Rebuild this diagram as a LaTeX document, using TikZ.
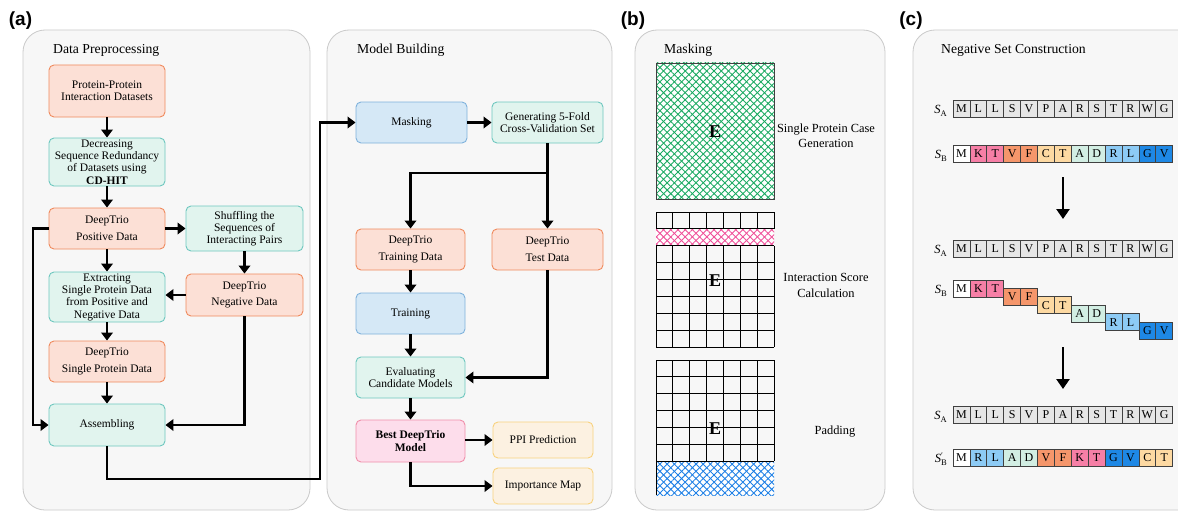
\documentclass[tikz,border=0pt]{standalone}
\usepackage{fontspec}
\setmainfont{Liberation Serif}
\newfontfamily\panelfont{Liberation Sans}
\usetikzlibrary{arrows.meta,patterns.meta}
\definecolor{panelbg}{HTML}{F7F7F7}
\definecolor{panelborder}{HTML}{CACACA}
\definecolor{orfill}{HTML}{FCE0D6}
\definecolor{ordraw}{HTML}{F08A5D}
\definecolor{tlfill}{HTML}{E1F4EE}
\definecolor{tldraw}{HTML}{6EC7BF}
\definecolor{blfill}{HTML}{D5E8F6}
\definecolor{bldraw}{HTML}{7FB2DC}
\definecolor{pkfill}{HTML}{FDDDEB}
\definecolor{pkdraw}{HTML}{F08FAA}
\definecolor{ylfill}{HTML}{FCF1E1}
\definecolor{yldraw}{HTML}{F8D27E}
\definecolor{cgray}{HTML}{E6E6E6}
\definecolor{cpink}{HTML}{F67FA6}
\definecolor{corange}{HTML}{F5966B}
\definecolor{cpeach}{HTML}{FDD9A2}
\definecolor{cteal}{HTML}{D2EEE3}
\definecolor{clblue}{HTML}{8DCBF5}
\definecolor{cblue}{HTML}{1E88E5}
\definecolor{hgreen}{HTML}{1AAA62}
\definecolor{hpink}{HTML}{F0509A}
\definecolor{hblue}{HTML}{1E80E6}
\newcommand\myseqrow[3]{\foreach \ch/\cc [count=\i from 0] in {#3} {\node[cell,fill=\cc] (#1-\i) at (961.45+\i*16.9,#2) {\ch};}}
\begin{document}
\begin{tikzpicture}[x=1pt,y=-1pt,
  panel/.style={draw=panelborder,fill=panelbg,line width=0.8pt,rounded corners=22pt},
  box/.style={rounded corners=5pt,line width=0.9pt,align=center,inner sep=1pt,font=\fontsize{11.5}{12.3}\selectfont},
  obox/.style={box,draw=ordraw,fill=orfill},
  tbox/.style={box,draw=tldraw,fill=tlfill},
  bbox/.style={box,draw=bldraw,fill=blfill},
  pbox/.style={box,draw=pkdraw,fill=pkfill},
  ybox/.style={box,draw=yldraw,fill=ylfill},
  arr/.style={line width=2.4pt,-{Triangle[length=8pt,width=11.5pt]}},
  bigarr/.style={line width=2.6pt,-{Triangle[length=10pt,width=13pt]}},
  ttl/.style={anchor=west,inner sep=0pt,font=\fontsize{13.7}{16}\selectfont},
  plabel/.style={inner sep=0pt,font=\panelfont\bfseries\fontsize{19}{22}\selectfont},
  cell/.style={draw=black!75,line width=0.8pt,minimum width=16.9pt,minimum height=16.9pt,inner sep=0pt,font=\fontsize{12}{12}\selectfont},
  hatchfill/.style={fill=white,
    postaction={pattern={Lines[angle=45,distance=5.1pt,line width=0.9pt]},pattern color=#1,fill opacity=0.45},
    postaction={pattern={Lines[angle=-45,distance=5.1pt,line width=0.9pt]},pattern color=#1,fill opacity=0.45}},
  gline/.style={line width=0.9pt,draw=black},
  seqlbl/.style={anchor=east,inner sep=0pt,font=\fontsize{12.5}{13}\selectfont},
  lbl/.style={align=center,inner sep=0pt,font=\fontsize{12.4}{15.5}\selectfont},
  bigE/.style={inner sep=0pt,font=\bfseries\fontsize{18}{18}\selectfont}
]
\clip (0,0) rectangle (1178,511);
\fill[white] (0,0) rectangle (1178,511);
% panel backgrounds
\draw[panel] (23,30) rectangle (310,510);
\draw[panel] (327,30) rectangle (612,510);
\draw[panel] (635,30) rectangle (885,510);
\draw[panel] (913,30) rectangle (1200,510);
% panel labels
\node[plabel] (la) at (20.5,21) {(a)};
\node[plabel] (lb) at (633,21) {(b)};
\node[plabel] (lc) at (911,21) {(c)};
% titles
\node[ttl] (t1) at (53,50) {Data Preprocessing};
\node[ttl] (t2) at (357,50) {Model Building};
\node[ttl] (t3) at (664,50) {Masking};
\node[ttl] (t4) at (941,50) {Negative Set Construction};
% ---------- Data preprocessing ----------
\node[obox,minimum width=116pt,minimum height=52pt] (n1) at (107,91) {Protein-Protein\\Interaction Datasets};
\node[tbox,minimum width=116pt,minimum height=48pt] (n2) at (107,162) {Decreasing\\Sequence Redundancy\\of Datasets using\\\textbf{CD-HIT}};
\node[obox,minimum width=116pt,minimum height=41pt] (n3) at (107,228.5) {DeepTrio\\[4.5pt]Positive Data};
\node[tbox,minimum width=117pt,minimum height=45pt] (n4) at (244.5,228.5) {Shuffling the\\Sequences of\\Interacting Pairs};
\node[tbox,minimum width=116pt,minimum height=50pt] (n5) at (107,297) {Extracting\\Single Protein Data\\from Positive and\\Negative Data};
\node[obox,minimum width=117pt,minimum height=42pt] (n6) at (244.5,295) {DeepTrio\\[4.5pt]Negative Data};
\node[obox,minimum width=116pt,minimum height=41pt] (n7) at (107,361.5) {DeepTrio\\[4.5pt]Single Protein Data};
\node[tbox,minimum width=116pt,minimum height=42pt] (n8) at (107,425) {Assembling};
\coordinate (L) at (33,0);
\coordinate (J) at (320,479);
\draw[arr] (n1) -- (n2);
\draw[arr] (n2) -- (n3);
\draw[arr] (n3.east) -- (n4.west);
\draw[arr] (n3) -- (n5);
\draw[arr] (n4.south) -- (n6.north);
\draw[arr] (n6.west) -- (n6.west -| n5.east);
\draw[arr] (n5) -- (n7);
\draw[arr] (n7) -- (n8);
\draw[arr] (n3.west) -- (n3.west -| L) |- (n8.west);
\draw[arr] (n6.south) |- (n8.east);
% ---------- Model building ----------
\node[bbox,minimum width=111pt,minimum height=41pt] (m1) at (411.5,122.5) {Masking};
\node[tbox,minimum width=111pt,minimum height=41pt] (m2) at (547.5,122.5) {Generating 5-Fold\\Cross-Validation Set};
\node[obox,minimum width=109pt,minimum height=41pt] (m3) at (410.5,249.5) {DeepTrio\\[4.5pt]Training Data};
\node[obox,minimum width=111pt,minimum height=41pt] (m4) at (547.5,249.5) {DeepTrio\\[4.5pt]Test Data};
\node[bbox,minimum width=109pt,minimum height=41pt] (m5) at (410.5,313.5) {Training};
\node[tbox,minimum width=109pt,minimum height=41pt] (m6) at (410.5,377.5) {Evaluating\\Candidate Models};
\node[pbox,minimum width=109pt,minimum height=42pt] (m7) at (410.5,441) {\textbf{Best DeepTrio}\\\textbf{Model}};
\node[ybox,minimum width=100pt,minimum height=36pt] (m8) at (543,440) {PPI Prediction};
\node[ybox,minimum width=100pt,minimum height=36pt] (m9) at (543,486) {Importance Map};
\coordinate (split) at (547.5,173);
\draw[arr] (n8.south) |- (J) |- (m1.west);
\draw[arr] (m1) -- (m2);
\draw[arr] (m2.south) -- (m4.north);
\draw[arr] (split) -| (m3.north);
\draw[arr] (m3) -- (m5);
\draw[arr] (m5) -- (m6);
\draw[arr] (m4.south) |- (m6.east);
\draw[arr] (m6) -- (m7);
\draw[arr] (m7.east |- m8.west) -- (m8.west);
\draw[arr] (m7.south) |- (m9.west);
% ---------- Masking panel ----------
\path[hatchfill=hgreen] (656,63) rectangle (774,199);
\draw[line width=0.9pt,draw=black!75] (656,63) rectangle (774,199);
\node[bigE] (e1) at (715,132) {E};
\node[lbl] (b1) at (826,136) {Single Protein Case\\Generation};
% grid 2
\path[hatchfill=hpink] (656,228.875) rectangle (774,245.75);
\foreach \k in {0,...,7} {
  \draw[gline] (656+\k*16.857,212) -- (656+\k*16.857,228.875);
  \draw[gline] (656+\k*16.857,245.75) -- (656+\k*16.857,347);
}
\foreach \j in {0,...,8} \draw[gline] (656,212+\j*16.875) -- (774,212+\j*16.875);
\node[bigE] (e2) at (715,281) {E};
\node[lbl] (b2) at (826,285.5) {Interaction Score\\Calculation};
% grid 3
\path[hatchfill=hblue] (656,461.25) rectangle (774,495);
\foreach \k in {0,...,7} \draw[gline] (656+\k*16.857,360) -- (656+\k*16.857,461.25);
\draw[gline] (656,461.25) -- (656,495);
\foreach \j in {0,...,6} \draw[gline] (656,360+\j*16.875) -- (774,360+\j*16.875);
\node[bigE] (e3) at (715,429) {E};
\node[lbl] (b3) at (835,432) {Padding};
% ---------- Negative set panel ----------
\node[seqlbl] (s1) at (947,111) {{\itshape S}\raisebox{-3pt}{\fontsize{8.5}{9}\selectfont A}};
\myseqrow{ra}{109}{M/cgray,L/cgray,L/cgray,S/cgray,V/cgray,P/cgray,A/cgray,R/cgray,S/cgray,T/cgray,R/cgray,W/cgray,G/cgray}
\node[seqlbl] (s2) at (947,155.5) {{\itshape S}\raisebox{-3pt}{\fontsize{8.5}{9}\selectfont B}};
\myseqrow{rb}{153.5}{M/white,K/cpink,T/cpink,V/corange,F/corange,C/cpeach,T/cpeach,A/cteal,D/cteal,R/clblue,L/clblue,G/cblue,V/cblue}
\coordinate (p1a) at (1063,177);
\coordinate (p1b) at (1063,219);
\draw[bigarr] (p1a) -- (p1b);
\node[seqlbl] (s3) at (947,251) {{\itshape S}\raisebox{-3pt}{\fontsize{8.5}{9}\selectfont A}};
\myseqrow{rc}{249}{M/cgray,L/cgray,L/cgray,S/cgray,V/cgray,P/cgray,A/cgray,R/cgray,S/cgray,T/cgray,R/cgray,W/cgray,G/cgray}
\node[seqlbl] (s4) at (947,290.5) {{\itshape S}\raisebox{-3pt}{\fontsize{8.5}{9}\selectfont B}};
\foreach \ch/\cc/\yy [count=\i from 0] in {M/white/288.5,K/cpink/288.5,T/cpink/288.5,V/corange/296.9,F/corange/296.9,C/cpeach/305.3,T/cpeach/305.3,A/cteal/313.7,D/cteal/313.7,R/clblue/322.1,L/clblue/322.1,G/cblue/330.5,V/cblue/330.5}
  {\node[cell,fill=\cc] (rd-\i) at (961.45+\i*16.9,\yy) {\ch};}
\coordinate (p2a) at (1063,347);
\coordinate (p2b) at (1063,389);
\draw[bigarr] (p2a) -- (p2b);
\node[seqlbl] (s5) at (947,417) {{\itshape S}\raisebox{-3pt}{\fontsize{8.5}{9}\selectfont A}};
\myseqrow{re}{415}{M/cgray,L/cgray,L/cgray,S/cgray,V/cgray,P/cgray,A/cgray,R/cgray,S/cgray,T/cgray,R/cgray,W/cgray,G/cgray}
\node[seqlbl] (s6) at (947,459.5) {{\itshape S}\rlap{\raisebox{4pt}{\fontsize{8.5}{9}\selectfont ′}}\raisebox{-3pt}{\fontsize{8.5}{9}\selectfont B}};
\myseqrow{rf}{457.5}{M/white,R/clblue,L/clblue,A/cteal,D/cteal,V/corange,F/corange,K/cpink,T/cpink,G/cblue,V/cblue,C/cpeach,T/cpeach}
\end{tikzpicture}
\end{document}
